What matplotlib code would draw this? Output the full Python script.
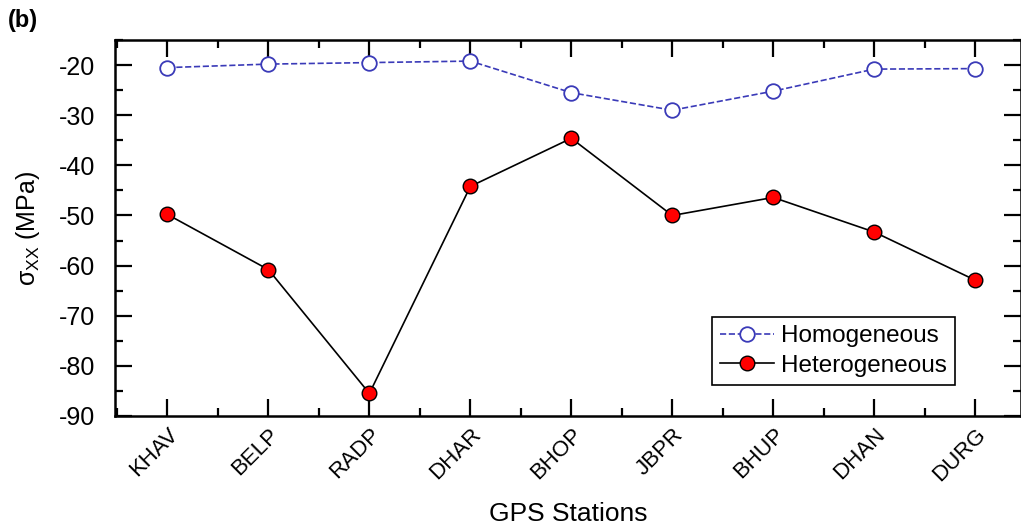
import matplotlib
matplotlib.use('Agg')
import matplotlib.pyplot as plt
from matplotlib.ticker import MultipleLocator

plt.rcParams['font.family'] = ['Liberation Sans', 'DejaVu Sans']
plt.rcParams['mathtext.default'] = 'regular'
plt.rcParams['axes.unicode_minus'] = False

stations = ['KHAV', 'BELP', 'RADP', 'DHAR', 'BHOP', 'JBPR', 'BHUP', 'DHAN', 'DURG']
homogeneous = [-20.5, -19.8, -19.5, -19.2, -25.5, -29.0, -25.2, -20.8, -20.7]
heterogeneous = [-49.8, -60.8, -85.5, -44.2, -34.6, -50.0, -46.4, -53.3, -62.9]

fig = plt.figure(figsize=(10.21, 5.31), dpi=100)
ax = fig.add_axes([0.1126, 0.2166, 0.887, 0.708])

x = range(len(stations))
ax.plot(x, homogeneous, '--', color='#3a3ab8', lw=1.2, marker='o', ms=10.5,
        mfc='white', mec='#3a3ab8', mew=1.3, label='Homogeneous', zorder=3)
ax.plot(x, heterogeneous, '-', color='black', lw=1.2, marker='o', ms=10.5,
        mfc='red', mec='black', mew=1.0, label='Heterogeneous', zorder=3)

ax.set_xlim(-0.52, 8.45)
ax.set_ylim(-90, -15)
ax.set_xticks(list(x))
ax.set_xticklabels(stations, rotation=45, ha='right', va='top',
                   rotation_mode='anchor', fontsize=16)
ax.xaxis.set_minor_locator(MultipleLocator(0.5))
ax.yaxis.set_major_locator(MultipleLocator(10))
ax.yaxis.set_minor_locator(MultipleLocator(5))
ax.tick_params(which='both', direction='in', top=True, right=True, width=1.6)
ax.tick_params(which='major', length=12)
ax.tick_params(which='minor', length=6)
ax.tick_params(axis='x', pad=6)
ax.tick_params(axis='y', labelsize=18, pad=14)
for s in ax.spines.values():
    s.set_linewidth(1.8)

ax.set_xlabel('GPS Stations', fontsize=19, labelpad=12)
ax.set_ylabel(r'$\sigma_{XX}$ (MPa)', fontsize=18, labelpad=12)

leg = ax.legend(loc='lower right', bbox_to_anchor=(0.928, 0.082), fontsize=17.5,
                frameon=True, fancybox=False, edgecolor='black', framealpha=1,
                handlelength=2.2, borderpad=0.35, labelspacing=0.3, handletextpad=0.3,
                borderaxespad=0)
leg.get_frame().set_linewidth(1.2)

fig.text(0.008, 0.95, '(b)', fontsize=17, fontweight='bold')

fig.savefig('out.png', dpi=100)
